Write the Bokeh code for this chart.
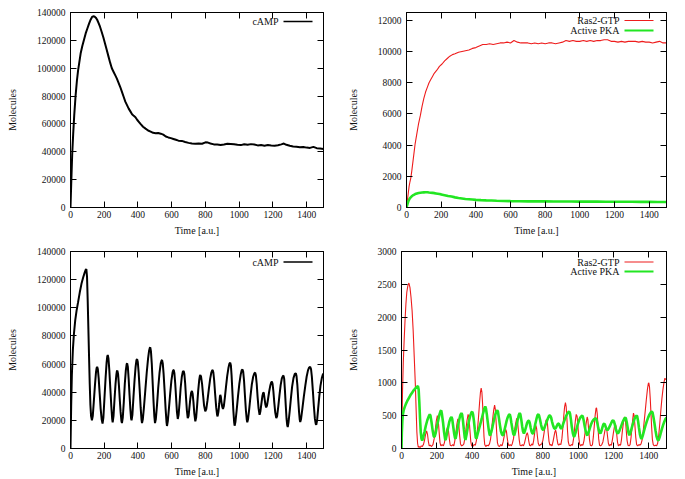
from bokeh.plotting import figure
from bokeh.layouts import column, row
from bokeh.models import Range1d, FixedTicker, LinearAxis, Label, Arrow, BasicTickFormatter
from bokeh.embed import file_html
from bokeh.resources import INLINE

FONT = "Liberation Serif"

# ---------------- data ----------------
x_ticks = [0, 200, 400, 600, 800, 1000, 1200, 1400]
ticks_camp = [0, 20000, 40000, 60000, 80000, 100000, 120000, 140000]
ticks_ras_a = [0, 2000, 4000, 6000, 8000, 10000, 12000]
ticks_ras_b = [0, 500, 1000, 1500, 2000, 2500, 3000]

# panel A: cAMP (steady)
camp_a_t = [0, 4, 10, 16, 22, 30, 38, 45, 52, 60, 70, 80, 90, 100, 110, 120, 128, 135, 142, 150,
            158, 166, 175, 185, 195, 205, 215, 225, 235, 245, 255, 265, 275, 285, 295, 305, 315, 325,
            335, 345, 355, 365, 375, 385, 395, 405, 415, 430, 445, 460, 475, 490, 505, 520, 535, 550,
            565, 580, 595, 610, 625, 640, 660, 680, 700, 720, 740, 760, 780, 800, 815, 830, 850, 870,
            890, 910, 930, 950, 970, 990, 1010, 1030, 1050, 1070, 1090, 1110, 1130, 1150, 1170, 1190,
            1210, 1230, 1250, 1265, 1280, 1300, 1320, 1340, 1360, 1380, 1400, 1420, 1440, 1460, 1480, 1500]
camp_a_y = [0, 16000, 38000, 53000, 66000, 80000, 91000, 98500, 104000, 110500, 116000, 120500, 125000,
            128500, 132000, 135000, 136800, 137300, 137200, 136300, 134800, 132500, 129800, 126000, 122000,
            117500, 113000, 108500, 104000, 100000, 97500, 95000, 92500, 89500, 86500, 83000, 79500, 76000,
            73500, 71000, 69000, 67000, 65800, 64800, 63000, 61500, 60000, 58000, 56600, 55300, 54500, 53600,
            53300, 53500, 53000, 52300, 51000, 50300, 49800, 49200, 48600, 48000, 47800, 47000, 46400, 46000,
            45700, 46000, 45800, 46800, 46600, 46000, 45300, 45200, 44900, 45300, 45800, 45600, 45400, 45000,
            44800, 45400, 45100, 45500, 45200, 44600, 44800, 44400, 44800, 44500, 44300, 44700, 45300, 45900,
            45000, 44300, 43800, 43600, 43200, 43500, 43000, 42800, 43500, 42600, 42300, 42000]

# panel B: Ras2-GTP and PKA (steady)
ras_a_t = [0, 5, 10, 15, 20, 25, 30, 40, 50, 60, 70, 80, 90, 100, 110, 120, 130, 140, 150, 160, 175, 190,
           205, 220, 235, 250, 265, 280, 300, 320, 340, 360, 380, 400, 420, 440, 460, 480, 500, 520, 540,
           560, 580, 600, 620, 640, 660, 680, 700, 720, 740, 760, 780, 800, 820, 840, 860, 880, 900, 920,
           940, 960, 980, 1000, 1020, 1040, 1060, 1080, 1100, 1120, 1140, 1160, 1180, 1200, 1220, 1240,
           1260, 1280, 1300, 1320, 1340, 1360, 1380, 1400, 1420, 1440, 1460, 1480, 1500]
ras_a_y = [0, 450, 900, 1350, 1650, 1900, 2300, 3200, 4100, 4750, 5400, 5900, 6500, 7000, 7400, 7700, 8000,
           8200, 8400, 8600, 8800, 9050, 9200, 9400, 9550, 9700, 9800, 9850, 9950, 10000, 10050, 10100,
           10200, 10250, 10350, 10450, 10450, 10500, 10450, 10500, 10550, 10550, 10600, 10550, 10700, 10600,
           10550, 10550, 10550, 10500, 10550, 10500, 10550, 10500, 10550, 10550, 10500, 10550, 10600, 10700,
           10650, 10700, 10650, 10650, 10700, 10650, 10700, 10650, 10700, 10700, 10750, 10750, 10650, 10650,
           10600, 10650, 10600, 10650, 10650, 10650, 10600, 10650, 10600, 10600, 10550, 10600, 10650, 10550, 10550]
pka_a_t = [0, 5, 10, 15, 20, 30, 40, 50, 60, 70, 80, 90, 100, 110, 120, 130, 140, 150, 160, 170, 180, 190,
           200, 220, 240, 260, 280, 300, 320, 340, 360, 380, 400, 430, 460, 490, 520, 560, 600, 650, 700,
           750, 800, 850, 900, 950, 1000, 1050, 1100, 1150, 1200, 1250, 1300, 1350, 1400, 1450, 1500]
pka_a_y = [0, 200, 380, 500, 600, 720, 800, 860, 900, 930, 950, 960, 970, 980, 975, 960, 950, 940, 920, 900,
           880, 860, 840, 790, 740, 700, 650, 610, 580, 550, 530, 510, 490, 470, 455, 445, 430, 420, 410,
           400, 395, 390, 390, 385, 380, 380, 378, 375, 375, 372, 370, 370, 365, 362, 360, 355, 350]

# panel C: cAMP (oscillating)
camp_c_t = [0, 4, 8, 14, 20, 28, 36, 45, 55, 65, 75, 84, 90, 94, 98, 102, 106, 110, 114, 118, 122, 127,
            132, 138, 145, 151, 155, 158, 162, 167, 173, 179, 185, 190,
            195, 201, 208, 214, 218, 221, 225, 230, 236, 242, 247, 250,
            255, 261, 267, 272, 275, 278, 282, 287, 292, 297, 302, 305,
            310, 316, 322, 328, 333, 336, 340, 345, 350, 355, 359, 362,
            367, 373, 380, 386, 391, 395, 399, 404, 410, 416, 421, 424,
            429, 436, 444, 452, 460, 466, 470, 473, 477, 482, 487, 492, 497, 501,
            506, 513, 520, 528, 535, 540, 543, 547, 552, 558, 564, 569, 572,
            577, 584, 591, 598, 605, 609, 612, 616, 621, 626, 631, 636,
            641, 647, 653, 660, 666, 671, 675, 680, 685, 690, 695,
            700, 705, 710, 715, 720, 724, 729, 734, 740,
            745, 751, 757, 763, 767, 770, 774, 780, 786, 792, 799,
            805, 812, 820, 828, 835, 840, 843, 847, 852, 858, 864, 869, 872,
            877, 882, 886, 888, 891, 895, 900, 904,
            909, 915, 922, 929, 936, 942, 947, 951, 955, 960, 965, 970, 973,
            978, 985, 993, 1001, 1009, 1015, 1020, 1024, 1029, 1034, 1040, 1045, 1048,
            1053, 1060, 1067, 1075, 1083, 1090, 1095, 1099, 1104, 1109, 1115, 1121,
            1126, 1132, 1138, 1143, 1146, 1150, 1155, 1160,
            1165, 1171, 1178, 1185, 1190, 1194, 1198, 1203, 1208, 1214, 1220,
            1225, 1232, 1239, 1246, 1253, 1259, 1263, 1267, 1271, 1276, 1281, 1285, 1288,
            1293, 1300, 1307, 1314, 1322, 1330, 1336, 1340, 1345, 1350, 1355, 1359, 1362,
            1367, 1375, 1383, 1392, 1400, 1408, 1415, 1421, 1426, 1431, 1437, 1443, 1449, 1454, 1457,
            1462, 1468, 1475, 1482, 1490, 1496, 1500]
camp_c_y = [0, 30000, 52000, 70000, 81000, 91000, 98000, 104000, 111000, 117000, 121500, 125000, 127000,
            127500, 122000, 105000, 85000, 65000, 46000, 31000, 23000, 20000,
            23000, 33000, 45000, 54000, 57300, 58000, 56500, 50000, 39000, 28000, 20500, 17700,
            22000, 35000, 50000, 61000, 65500, 66400, 64000, 56000, 43000, 30000, 21000, 18500,
            23000, 35000, 46000, 52500, 55000, 55300, 53000, 45000, 35000, 26000, 19500, 18100,
            22000, 33000, 46000, 55500, 60000, 60500, 58000, 49000, 38000, 28000, 21500, 20000,
            24000, 36000, 49000, 58000, 62800, 63500, 61500, 54000, 42000, 29000, 20500, 18000,
            21000, 30000, 42000, 54000, 64000, 69500, 71500, 71800, 69000, 60000, 47000, 34000, 23000, 18000,
            21000, 31000, 43000, 54000, 60500, 62600, 62800, 60500, 53000, 41000, 28000, 19000, 16000,
            19500, 29000, 39000, 48000, 54000, 55600, 55800, 53500, 46000, 36000, 26000, 21000,
            24000, 33000, 43000, 51000, 54500, 55100, 53000, 46000, 36000, 27000, 21600,
            23000, 29000, 35000, 39500, 40900, 39000, 33000, 25000, 19300,
            22000, 31000, 41000, 48500, 51500, 52200, 51000, 46000, 38000, 30500, 26400,
            28000, 34000, 42000, 49500, 54000, 55500, 55800, 54000, 48000, 38000, 29000, 24000, 22800,
            26000, 32000, 37000, 38100, 37000, 33000, 29500, 28200,
            30000, 36000, 44000, 51500, 57000, 60300, 61000, 59000, 52000, 40000, 28000, 19000, 16200,
            19000, 27000, 37000, 46000, 52500, 55600, 56200, 54500, 48000, 38000, 27000, 20500, 18600,
            21000, 28500, 37000, 45500, 51000, 53500, 53900, 52000, 46000, 37000, 28500, 24000,
            26500, 32000, 37500, 39800, 39500, 36000, 31500, 29200,
            30500, 35000, 40500, 45000, 47000, 47500, 46000, 40500, 33000, 25500, 21600,
            23000, 30000, 38000, 45000, 49800, 51500, 51800, 49500, 42000, 31000, 21000, 16500, 15300,
            19000, 27000, 36000, 44000, 50000, 53000, 53400, 51500, 45000, 35000, 26000, 20500, 18800,
            21000, 28500, 36500, 44500, 51000, 55500, 57600, 58100, 56500, 51000, 41000, 30000, 21000, 17500, 16900,
            20000, 28000, 37000, 44500, 50000, 52500, 53400]

# panel D: Ras2-GTP and PKA (oscillating)
ras_d_t = [0, 3, 6, 10, 15, 20, 25, 30, 36, 42, 48, 54, 60, 66, 72, 78, 83, 87, 91, 95, 100, 106, 112, 118,
           124, 130, 136, 142, 147, 152, 157, 163, 170,
           178, 185, 191, 197, 203, 208, 213, 218, 223, 230, 237,
           243, 249, 255, 261, 266, 271, 276, 283, 290, 296,
           302, 308, 314, 319, 324, 329, 334, 340, 347, 353,
           359, 365, 371, 377, 382, 387, 392, 397, 404, 411, 418,
           424, 430, 436, 442, 447, 451, 455, 459, 463, 467, 471, 477, 484, 491, 498,
           504, 510, 516, 522, 527, 531, 535, 539, 543, 548, 555, 562, 569,
           575, 580, 585, 590, 594, 598, 603, 608, 615, 622, 628,
           634, 640, 646, 652, 657, 661, 666, 671, 677, 684, 690,
           696, 702, 707, 712, 716, 720, 725, 731, 737, 743,
           748, 753, 757, 761, 765, 769, 774, 780, 787, 794,
           800, 806, 812, 818, 822, 826, 830, 835, 840, 846, 852,
           858, 863, 868, 872, 876, 880, 885, 890, 896, 902,
           908, 913, 918, 923, 928, 932, 936, 940, 944, 949, 955, 962, 968,
           974, 979, 984, 989, 994, 998, 1003, 1008, 1014, 1020, 1027,
           1033, 1039, 1045, 1051, 1055, 1059, 1064, 1069, 1075, 1081,
           1086, 1091, 1096, 1101, 1104, 1108, 1112, 1116, 1121, 1127, 1134,
           1140, 1146, 1152, 1158, 1162, 1166, 1171, 1176, 1182, 1188,
           1193, 1199, 1205, 1210, 1214, 1218, 1223, 1228, 1234, 1240,
           1245, 1250, 1256, 1261, 1264, 1268, 1272, 1277, 1282, 1288, 1294,
           1299, 1304, 1309, 1313, 1317, 1321, 1326, 1331, 1337, 1344, 1350, 1356,
           1362, 1368, 1374, 1380, 1386, 1392, 1397, 1400, 1404, 1408, 1412, 1416, 1420, 1425, 1431, 1438, 1444, 1450,
           1456, 1462, 1468, 1474, 1480, 1486, 1491, 1496, 1500]
ras_d_y = [0, 450, 900, 1300, 1650, 1950, 2200, 2380, 2480, 2520, 2450, 2300, 2100, 1800, 1400, 1000, 580, 250,
           80, 20, 30, 15, 40, 30,
           60, 120, 210, 270, 220, 110, 40, 50, 30,
           60, 150, 280, 420, 500, 430, 250, 90, 40, 60, 40,
           90, 180, 280, 330, 270, 140, 50, 40, 60, 40,
           120, 250, 380, 450, 380, 200, 70, 40, 50, 70,
           160, 300, 430, 520, 470, 290, 110, 40, 30, 60, 50,
           120, 280, 480, 700, 860, 920, 860, 680, 420, 180, 60, 30, 50, 40, 70,
           140, 280, 450, 590, 660, 600, 430, 230, 90, 40, 30, 60, 40,
           100, 170, 240, 290, 260, 170, 80, 40, 60, 40, 80,
           150, 280, 380, 460, 420, 290, 140, 50, 40, 60, 40,
           80, 150, 210, 240, 200, 120, 50, 40, 70, 50,
           120, 220, 310, 350, 300, 190, 80, 40, 60, 70,
           120, 220, 330, 430, 440, 380, 250, 110, 50, 60, 40,
           110, 180, 250, 280, 240, 150, 70, 50, 70, 60,
           150, 300, 480, 630, 700, 640, 470, 260, 100, 50, 40, 60, 50,
           150, 280, 420, 520, 490, 360, 180, 70, 40, 60, 50,
           120, 240, 380, 480, 440, 300, 140, 50, 40, 60,
           180, 340, 500, 610, 620, 530, 340, 150, 50, 40, 60,
           100, 190, 280, 330, 290, 190, 80, 40, 60, 50,
           120, 230, 330, 380, 340, 220, 90, 40, 60, 50,
           130, 260, 390, 470, 480, 420, 280, 120, 50, 40, 60,
           160, 300, 450, 540, 500, 360, 170, 60, 40, 60, 50, 70,
           130, 260, 420, 580, 750, 900, 990, 1000, 930, 760, 540, 320, 140, 60, 40, 50, 40, 80,
           200, 380, 580, 760, 900, 1010, 1070, 1050, 1060]
pka_d_t = [0, 2, 5, 8, 12, 18, 25, 32, 40, 50, 60, 70, 80, 88, 93, 97, 101, 105, 109, 113, 117,
           122, 130, 138, 146, 154, 160, 164, 170, 176, 182, 187,
           193, 200, 208, 215, 221, 225, 229, 235, 241, 247, 250,
           256, 263, 270, 277, 283, 287, 292, 298, 303, 306,
           312, 319, 326, 333, 339, 343, 348, 353, 358, 362,
           368, 375, 382, 389, 396, 401, 405, 410, 415, 420, 424,
           430, 438, 446, 454, 462, 469, 474, 478, 483, 488, 494, 499, 502,
           508, 515, 522, 529, 536, 542, 546, 551, 557, 563, 569, 575,
           581, 588, 595, 602, 608, 613, 617, 622, 628, 633, 638,
           644, 651, 658, 664, 669, 673, 678, 683, 688, 693,
           699, 705, 711, 717, 722, 726, 731, 736, 741, 745,
           751, 757, 764, 770, 775, 779, 784, 790, 796, 802,
           808, 815, 822, 829, 836, 842, 847, 852, 858, 864, 870,
           875, 880, 885, 890, 894, 899, 904,
           910, 917, 924, 931, 938, 945, 950, 954, 959, 964, 970, 975, 978,
           984, 991, 998, 1005, 1012, 1018, 1023, 1027, 1032, 1037, 1043, 1049, 1052,
           1058, 1065, 1072, 1080, 1088, 1095, 1100, 1104, 1109, 1114, 1120, 1126,
           1132, 1138, 1143, 1148, 1152, 1157, 1162, 1166,
           1172, 1179, 1186, 1193, 1199, 1203, 1208, 1214, 1220, 1226,
           1232, 1239, 1246, 1253, 1260, 1266, 1270, 1275, 1280, 1285, 1290,
           1296, 1303, 1310, 1317, 1324, 1330, 1334, 1339, 1344, 1350, 1355, 1360,
           1366, 1373, 1380, 1388, 1396, 1404, 1411, 1417, 1421, 1426, 1432, 1438, 1444, 1450, 1455,
           1461, 1467, 1474, 1481, 1488, 1494, 1500]
pka_d_y = [0, 250, 430, 520, 580, 630, 680, 720, 760, 810, 850, 890, 920, 940, 950, 900, 700, 450, 250, 150, 120,
           160, 250, 350, 430, 490, 520, 500, 400, 280, 190, 175,
           230, 330, 430, 520, 570, 580, 520, 400, 250, 140, 130,
           210, 310, 400, 460, 480, 450, 350, 230, 160, 150,
           230, 330, 430, 510, 540, 520, 420, 290, 170, 130,
           210, 320, 420, 500, 550, 560, 520, 420, 290, 170, 150,
           210, 290, 370, 450, 540, 610, 640, 610, 520, 410, 280, 210, 200,
           250, 330, 420, 500, 560, 580, 560, 470, 360, 260, 210, 200,
           260, 340, 420, 480, 515, 520, 480, 390, 290, 220, 200,
           260, 350, 440, 510, 540, 520, 440, 340, 260, 230,
           270, 330, 390, 420, 420, 390, 320, 260, 230, 230,
           290, 370, 450, 510, 520, 500, 440, 360, 300, 280,
           310, 360, 410, 460, 500, 500, 470, 410, 350, 310, 300,
           320, 350, 375, 380, 360, 320, 300,
           330, 390, 440, 490, 530, 555, 560, 530, 440, 330, 230, 185, 180,
           230, 300, 370, 430, 470, 490, 500, 480, 420, 340, 260, 210, 200,
           240, 300, 360, 410, 440, 455, 460, 440, 380, 310, 250, 230,
           270, 330, 370, 380, 360, 320, 290, 280,
           300, 340, 380, 420, 430, 410, 360, 290, 240, 230,
           260, 310, 360, 410, 450, 470, 460, 400, 320, 240, 200,
           240, 310, 380, 440, 480, 500, 490, 420, 320, 210, 160, 150,
           200, 270, 340, 410, 470, 520, 550, 560, 550, 480, 380, 270, 180, 130, 125,
           170, 230, 300, 360, 410, 450, 470]

BLACK = "#000000"
RED = "#ee1c1c"
GREEN = "#22e622"
TEXT = "#111111"


def setup(width, height, ymax, yticks, mbl, mbr, mbt, mbb):
    p = figure(width=width, height=height, x_range=Range1d(0, 1500), y_range=Range1d(0, ymax),
               output_backend="svg", toolbar_location=None,
               min_border_left=mbl, min_border_right=mbr, min_border_top=mbt, min_border_bottom=mbb)
    p.xgrid.visible = False
    p.ygrid.visible = False
    p.outline_line_color = "black"
    p.background_fill_color = "white"
    p.border_fill_color = "white"
    for ax, ticks in ((p.below[0], x_ticks), (p.left[0], yticks)):
        ax.ticker = FixedTicker(ticks=ticks)
        ax.formatter = BasicTickFormatter(use_scientific=False)
        ax.major_tick_in = 6
        ax.major_tick_out = 0
        ax.minor_tick_line_color = None
        ax.axis_line_color = "black"
        ax.major_tick_line_color = "black"
        ax.major_label_text_font = FONT
        ax.major_label_text_font_size = "9.5px"
        ax.major_label_text_color = TEXT
        ax.axis_label_text_font = FONT
        ax.axis_label_text_font_size = "10px"
        ax.axis_label_text_font_style = "normal"
        ax.axis_label_text_color = TEXT
    p.below[0].axis_label = "Time [a.u.]"
    p.below[0].major_label_standoff = 3
    p.below[0].axis_label_standoff = 4
    p.left[0].axis_label = "Molecules"
    p.left[0].major_label_standoff = 5
    p.left[0].axis_label_standoff = 16
    # mirrored tick marks on top and right (gnuplot style), without labels
    for ticks, place in ((x_ticks, "above"), (yticks, "right")):
        ax = LinearAxis(ticker=FixedTicker(ticks=ticks), major_tick_in=6, major_tick_out=0,
                        minor_tick_line_color=None, major_label_text_font_size="1px",
                        major_label_text_color=None, major_label_text_alpha=0,
                        major_label_standoff=0, axis_line_color="black", major_tick_line_color="black")
        p.add_layout(ax, place)
    return p


def legend_entry(p, x_text, y, text, color, lw):
    p.add_layout(Label(x=x_text, y=y, x_units="screen", y_units="screen", text=text,
                       text_align="right", text_baseline="middle", text_font=FONT,
                       text_font_size="10px", text_color=TEXT))
    p.add_layout(Arrow(x_start=x_text + 5, y_start=y, x_end=x_text + 34, y_end=y,
                       start_units="screen", end_units="screen", start=None, end=None,
                       line_color=color, line_width=lw))


# Panel A  (frame 70..323 x 12..209)
pa = setup(340, 238, 140000, ticks_camp, 70, 17, 12, 29)
pa.line(camp_a_t, camp_a_y, line_color=BLACK, line_width=2)
legend_entry(pa, 208, 186, "cAMP", BLACK, 1.6)

# Panel B  (frame 406..666 x 12..209)
pb = setup(345, 238, 12500, ticks_ras_a, 66, 19, 12, 29)
pb.line(ras_a_t, ras_a_y, line_color=RED, line_width=1.1)
pb.line(pka_a_t, pka_a_y, line_color=GREEN, line_width=2.6)
legend_entry(pb, 213, 187, "Ras2-GTP", RED, 1.1)
legend_entry(pb, 213, 177, "Active PKA", GREEN, 1.8)

# Panel C  (frame 70..323 x 251..449)
pc = setup(340, 241, 140000, ticks_camp, 70, 17, 13, 30)
pc.line(camp_c_t, camp_c_y, line_color=BLACK, line_width=2)
legend_entry(pc, 208, 186.5, "cAMP", BLACK, 1.6)

# Panel D  (frame 401..666 x 251..449)
pd = setup(345, 241, 3000, ticks_ras_b, 61, 19, 13, 30)
pd.line(ras_d_t, ras_d_y, line_color=RED, line_width=1.1)
pd.line(pka_d_t, pka_d_y, line_color=GREEN, line_width=2.6)
legend_entry(pd, 218, 186.5, "Ras2-GTP", RED, 1.1)
legend_entry(pd, 218, 177, "Active PKA", GREEN, 1.8)

layout = column(row(pa, pb), row(pc, pd))
open("out.html", "w").write(file_html(layout, INLINE))
